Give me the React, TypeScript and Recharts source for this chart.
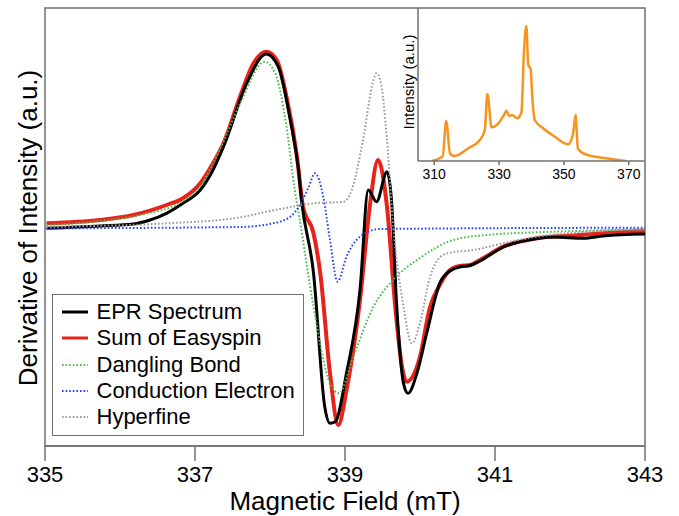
import React from 'react';
import { LineChart, Line, XAxis, YAxis, ReferenceArea, Legend } from 'recharts';

// main spectrum: [field (mT), derivative (a.u.)]
const eprSpectrum = [
  [335.02, -0.3], [335.73, 2], [336.18, 4], [336.4, 8], [336.62, 14.7], [336.84, 24.7],
  [337.07, 38], [337.24, 58], [337.38, 81.3], [337.69, 144.7], [337.95, 174], [338.11, 161.3],
  [338.27, 108], [338.38, 58], [338.42, 28], [338.58, -45], [338.73, -178.7], [338.8, -195.3],
  [338.87, -193.7], [339.02, -145], [339.2, -62], [339.31, 38], [339.42, 26.3], [339.56, 56.3],
  [339.62, 28], [339.69, -78.7], [339.78, -155.3], [339.84, -165.3], [339.96, -145], [340.09, -105],
  [340.27, -54], [340.4, -43], [340.53, -39], [340.67, -37.5], [340.8, -33], [341.11, -19],
  [341.56, -10.5], [341.78, -9], [342.18, -10.3], [342.44, -8], [343, -6],
];
const easyspinSum = [
  [335.02, 4.7], [335.73, 8], [336.18, 13], [336.62, 23], [336.84, 29.7], [337.07, 44.7],
  [337.24, 64.7], [337.38, 84.7], [337.6, 131.3], [337.78, 164.7], [337.95, 176.3], [338.09, 168],
  [338.22, 131.3], [338.36, 71.3], [338.44, 21.3], [338.58, -5.3], [338.67, -45], [338.8, -145],
  [338.91, -197], [339.02, -162], [339.2, -72], [339.33, 21.3], [339.44, 68], [339.56, 21.3],
  [339.67, -78.7], [339.76, -138.7], [339.82, -153.7], [340, -128.7], [340.13, -80], [340.27, -56],
  [340.4, -42], [340.53, -38], [340.67, -37], [340.8, -32], [341.11, -18.7], [341.56, -10.3],
  [342, -7.7], [342.44, -5.3], [343, -2.7],
];
const danglingBond = [
  [335.02, 3], [335.73, 7], [336.27, 13], [336.84, 27], [337.07, 42], [337.33, 78], [337.6, 124],
  [337.93, 166.3], [338.07, 154.7], [338.22, 101.3], [338.33, 38], [338.39, 11.3], [338.58, -78.7],
  [338.8, -155.3], [338.92, -165.3], [339.11, -128.7], [339.38, -78.7], [339.64, -52], [340, -30],
  [340.44, -12], [340.89, -7], [341.78, -3.7], [343, -1.3],
];
const conductionElectron = [
  [335.02, -0.3], [337.6, 1], [338.04, 4.7], [338.27, 11.3], [338.4, 23], [338.51, 40],
  [338.6, 54.7], [338.71, 31.3], [338.8, -12], [338.9, -53.7], [339.02, -28.7], [339.2, -8.7],
  [339.47, -1], [343, 0.3],
];
const hyperfine = [
  [335.02, 1.3], [336.71, 5], [337.55, 10], [338.13, 19], [338.58, 24.7], [338.98, 26.3],
  [339.09, 38], [339.24, 88], [339.38, 148], [339.42, 154.7], [339.47, 148], [339.56, 88],
  [339.64, 4.7], [339.78, -78.7], [339.89, -115.3], [340, -95.3], [340.13, -50], [340.27, -29],
  [340.4, -24.7], [340.71, -22], [341.11, -15.3], [341.56, -8.7], [342.22, -3.7], [343, -1.3],
];
const fieldTicks = [335, 337, 339, 341, 343];

// inset: absorption intensity
const insetIntensity = [
  [309.2, 0], [312.6, 4.6], [313.7, 40], [314.9, 7], [316.4, 5], [320.5, 12.7], [324.1, 21],
  [325.6, 31], [326.4, 67], [327.7, 33.7], [330.2, 39.3], [331.5, 46], [332.3, 50.3], [333.1, 45],
  [334, 46], [335.6, 42.7], [336.9, 49], [337.7, 111], [338.4, 135], [339, 96], [339.7, 92.7],
  [340.3, 61], [341, 41], [343.6, 32.7], [347.2, 24.3], [351.3, 16.7], [352.8, 27], [353.6, 46],
  [354.3, 12.7], [356.4, 7], [363, 2.7], [369.2, 0],
];
const insetTicks = [310, 330, 350, 370];

const toPoints = (arr: number[][]) => arr.map(([x, y]) => ({ x, y }));

const FONT = '"Liberation Sans", Arial, Helvetica, sans-serif';
const FRAME = '#707070';

const legendItems = [
  { name: 'EPR Spectrum', color: '#000000', dotted: false },
  { name: 'Sum of Easyspin', color: '#e8231b', dotted: false },
  { name: 'Dangling Bond', color: '#4cb94a', dotted: true },
  { name: 'Conduction Electron', color: '#2645f0', dotted: true },
  { name: 'Hyperfine', color: '#9a9a9a', dotted: true },
];

const renderLegend = () => (
  <div
    style={{
      width: 252,
      height: 142,
      boxSizing: 'border-box',
      border: `1.5px solid ${FRAME}`,
      background: '#fff',
      padding: '4.5px 0 0 9px',
      fontFamily: FONT,
      fontSize: 22,
      color: '#000',
      textAlign: 'left',
    }}
  >
    {legendItems.map((it) => (
      <div key={it.name} style={{ display: 'flex', alignItems: 'center', height: 26.25 }}>
        <svg width={26} height={6} style={{ marginRight: 9 }}>
          <line
            x1={0}
            y1={3}
            x2={26}
            y2={3}
            stroke={it.color}
            strokeWidth={it.dotted ? 2 : 3}
            strokeDasharray={it.dotted ? '1.6 2' : undefined}
          />
        </svg>
        <span style={{ whiteSpace: 'nowrap' }}>{it.name}</span>
      </div>
    ))}
  </div>
);

const xTitle = (props: any) => {
  const { viewBox } = props;
  return (
    <text x={viewBox.x + viewBox.width / 2} y={viewBox.y + 64} textAnchor="middle" fontSize={26} fontFamily={FONT} fill="#000">
      Magnetic Field (mT)
    </text>
  );
};

const yTitle = () => (
  <text x={37} y={228} transform="rotate(-90, 37, 228)" textAnchor="middle" fontSize={26} fontFamily={FONT} fill="#000">
    Derivative of Intensity (a.u.)
  </text>
);

const insetYTitle = () => (
  <text x={24} y={82} transform="rotate(-90, 24, 82)" textAnchor="middle" fontSize={15} fontFamily={FONT} fill="#000">
    Intensity (a.u.)
  </text>
);

export default function App() {
  return (
    <div style={{ position: 'absolute', left: 0, top: 0, width: 679, height: 516, background: '#fff', fontFamily: FONT }}>
      <LineChart width={679} height={516} margin={{ top: 8, right: 34, bottom: 0, left: 0 }}>
        <XAxis
          dataKey="x"
          type="number"
          domain={[335, 343]}
          ticks={fieldTicks}
          interval={0}
          allowDataOverflow
          height={70}
          tickSize={15}
          tickMargin={5}
          stroke={FRAME}
          strokeWidth={1.5}
          tick={{ fill: '#000', fontSize: 22, fontFamily: FONT }}
          label={xTitle}
        />
        <YAxis
          type="number"
          domain={[-218, 220]}
          allowDataOverflow
          width={45}
          tick={false}
          tickLine={false}
          axisLine={false}
          label={yTitle}
        />
        <ReferenceArea x1={335} x2={343} y1={-218} y2={220} fill="none" stroke={FRAME} strokeWidth={1.5} />
        <Line data={toPoints(easyspinSum)} dataKey="y" type="monotone" stroke="#e8231b" strokeWidth={4} dot={false} isAnimationActive={false} />
        <Line data={toPoints(eprSpectrum)} dataKey="y" type="monotone" stroke="#000000" strokeWidth={3} dot={false} isAnimationActive={false} />
        <Line data={toPoints(danglingBond)} dataKey="y" type="monotone" stroke="#4cb94a" strokeWidth={2} strokeDasharray="1.6 2" dot={false} isAnimationActive={false} />
        <Line data={toPoints(conductionElectron)} dataKey="y" type="monotone" stroke="#2645f0" strokeWidth={2} strokeDasharray="1.6 2" dot={false} isAnimationActive={false} />
        <Line data={toPoints(hyperfine)} dataKey="y" type="monotone" stroke="#9a9a9a" strokeWidth={2} strokeDasharray="1.6 2" dot={false} isAnimationActive={false} />
        <Legend
          layout="vertical"
          align="center"
          verticalAlign="middle"
          content={renderLegend}
          wrapperStyle={{ left: 51.5, top: 293.5, bottom: 'auto', right: 'auto', width: 252, height: 142 }}
        />
      </LineChart>
      <div style={{ position: 'absolute', left: 390, top: 0 }}>
        <LineChart width={256} height={190} margin={{ top: 8, right: 1, bottom: 0, left: 0 }}>
          <XAxis
            dataKey="x"
            type="number"
            domain={[305, 375]}
            ticks={insetTicks}
            interval={0}
            allowDataOverflow
            height={29}
            tickSize={4}
            tickMargin={4}
            stroke={FRAME}
            strokeWidth={1.5}
            tick={{ fill: '#000', fontSize: 14, fontFamily: FONT }}
          />
          <YAxis
            type="number"
            domain={[0, 153]}
            allowDataOverflow
            width={28}
            tick={false}
            tickLine={false}
            stroke={FRAME}
            strokeWidth={1.5}
            label={insetYTitle}
          />
          <Line data={toPoints(insetIntensity)} dataKey="y" type="monotone" stroke="#f7931e" strokeWidth={2.5} dot={false} isAnimationActive={false} />
        </LineChart>
      </div>
    </div>
  );
}
